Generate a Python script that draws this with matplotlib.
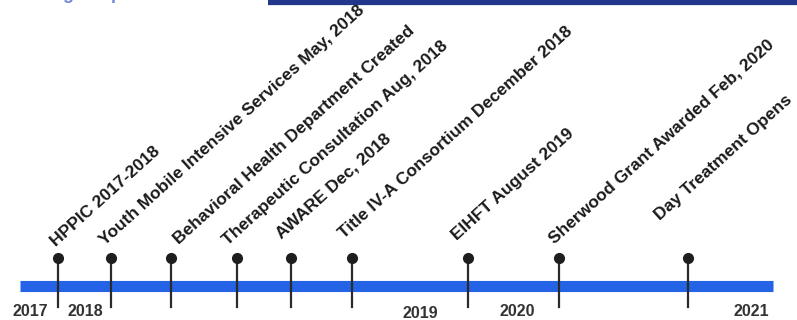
import matplotlib
matplotlib.use("Agg")
import matplotlib.pyplot as plt

# events on the timeline (position along the line, label)
event_pos = [58, 111, 171, 237, 291, 352, 468, 559, 688]
event_labels = [
    "HPPIC 2017-2018",
    "Youth Mobile Intensive Services May, 2018",
    "Behavioral Health Department Created",
    "Therapeutic Consultation Aug, 2018",
    "AWARE Dec, 2018",
    "Title IV-A Consortium December 2018",
    "EIHFT August 2019",
    "Sherwood Grant Awarded Feb, 2020",
    "Day Treatment Opens",
]

# year markers under the line
year_pos = [30, 85, 420, 517, 751]
year_labels = ["2017", "2018", "2019", "2020", "2021"]

# where each rotated label starts, relative to its stem (layout only)
label_dx = [-2, -6, 8, -9, -10, -8, -11, -5, -28]
label_y = [247, 246, 245, 246, 239, 239, 241, 244, 221]
year_y = [312, 312, 314, 311, 312]

line_start, line_end = 20, 773

plt.rcParams['font.family'] = ['Liberation Sans', 'DejaVu Sans']

fig = plt.figure(figsize=(7.97, 3.2), dpi=100)
ax = fig.add_axes([0, 0, 1, 1])
ax.set_xlim(0, 797)
ax.set_ylim(320, 0)
ax.axis('off')

# header pieces cut off at the top of the slide
ax.text(2, -1, "Building the past and future", color="#3a58c8", fontsize=13,
        fontweight='bold', va='baseline', ha='left', alpha=0.7)
ax.plot([268, 797], [2, 2], color="#22368c", linewidth=4.5, solid_capstyle='butt')

# main blue band
ax.plot([line_start, line_end], [286, 286], color="#2563e6", linewidth=8,
        solid_capstyle='butt', zorder=1)

for x, lab, dx, ly in zip(event_pos, event_labels, label_dx, label_y):
    ax.plot([x, x], [258, 307], color="#2a2a2a", linewidth=1.6, zorder=2)
    ax.plot(x, 258, 'o', color="#1e1e1e", markersize=7, zorder=3)
    ax.text(x + dx, ly, lab, rotation=42, rotation_mode='anchor',
            ha='left', va='baseline', fontsize=12.5, fontweight='bold',
            color="#1a1a1a")

for x, lab, y in zip(year_pos, year_labels, year_y):
    ax.text(x, y, lab, ha='center', va='center', fontsize=11.5,
            fontweight='bold', color="#333333")

fig.savefig("out.png", dpi=100)
